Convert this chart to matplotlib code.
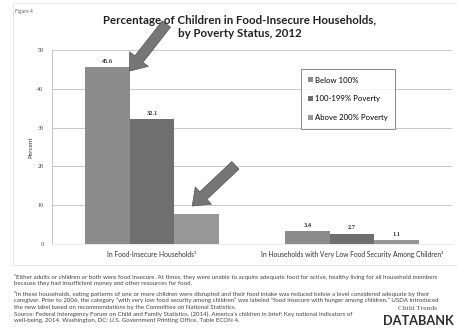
import matplotlib
matplotlib.use("Agg")
import matplotlib.pyplot as plt
from matplotlib.patches import Rectangle
import numpy as np

# Data
categories = ["In Food-Insecure Households\u00b9",
              "In Households with Very Low Food Security Among Children\u00b2"]
series_names = ["Below 100%", "100-199% Poverty", "Above 200% Poverty"]
below_100 = [45.6, 3.4]
pov_100_199 = [32.1, 2.7]
above_200 = [7.7, 1.1]
value_labels = [["45.6", "3.4"], ["32.1", "2.7"], [None, "1.1"]]
y_ticks = [0, 10, 20, 30, 40, 50]

colors = ["#8c8c8c", "#6f6f6f", "#989898"]

plt.rcParams["font.family"] = ["Lato", "DejaVu Sans"]

fig = plt.figure(figsize=(4.57, 3.32), dpi=100)
fig.patch.set_facecolor("white")

# faint frame of the chart region
fig.add_artist(Rectangle((13 / 457, 1 - 265 / 332), 450 / 457, 262 / 332,
                         transform=fig.transFigure, fill=False,
                         edgecolor="#e4e4e4", linewidth=0.6))

ax = fig.add_axes([52 / 457, 88 / 332, 400 / 457, 194 / 332])
x = np.arange(len(categories))
w = 0.222
series = [below_100, pov_100_199, above_200]
bars = []
for i, (vals, c) in enumerate(zip(series, colors)):
    b = ax.bar(x + (i - 1) * w, vals, width=w, color=c, label=series_names[i],
               zorder=2, linewidth=0)
    bars.append(b)
    for j, rect in enumerate(b):
        lab = value_labels[i][j]
        if lab:
            ax.text(rect.get_x() + rect.get_width() / 2, vals[j] + 0.8, lab,
                    ha="center", va="bottom", fontsize=4.5,
                    family="Liberation Serif", fontweight="bold", color="#333333")

ax.set_xlim(-0.5, 1.5)
ax.set_ylim(0, 50)
ax.set_yticks(y_ticks)
ax.set_yticklabels([str(t) for t in y_ticks], fontsize=4.5,
                   family="Liberation Serif", color="#444444")
ax.yaxis.grid(True, color="#c9c9c9", linewidth=0.7, zorder=0)
ax.set_axisbelow(True)
ax.tick_params(axis="y", length=0, pad=6)
ax.set_xticks(x)
ax.set_xticklabels(categories, fontsize=4.9, color="#333333")
ax.tick_params(axis="x", length=0, pad=5)
for s in ["top", "right"]:
    ax.spines[s].set_visible(False)
ax.spines["left"].set_color("#bbbbbb")
ax.spines["left"].set_linewidth(0.6)
ax.spines["bottom"].set_color("#e6e6e6")
ax.spines["bottom"].set_linewidth(0.6)
ax.set_ylabel("Percent", fontsize=4.5, color="#333333", labelpad=3)

leg = ax.legend(loc="upper left", bbox_to_anchor=(0.612, 0.923), fontsize=5.6,
                frameon=True, fancybox=False, edgecolor="#555555",
                handlelength=0.6, handleheight=0.6, handletextpad=0.2,
                labelspacing=1.5, borderpad=1.0)
leg.get_frame().set_linewidth(0.6)

# highlight arrows
arrow_kw = dict(arrowstyle="simple,head_length=1.1,head_width=1.7,tail_width=0.75",
                mutation_scale=10, facecolor="#767676", edgecolor="#555555",
                linewidth=0.5)
r1 = bars[0][0]
ax.annotate("", xy=(r1.get_x() + r1.get_width() - 0.01, 44.0),
            xytext=(29, 37), textcoords="offset points",
            arrowprops=arrow_kw, annotation_clip=False, zorder=4)
r3 = bars[2][0]
ax.annotate("", xy=(r3.get_x() + 0.08, 9.3),
            xytext=(34, 32), textcoords="offset points",
            arrowprops=arrow_kw, annotation_clip=False, zorder=4)

# titles and labels
fig.text(240 / 457, 1 - 27 / 332,
         "Percentage of Children in Food-Insecure Households,\nby Poverty Status, 2012",
         ha="center", va="center", fontsize=8.3, fontweight="bold",
         color="#222222", linespacing=1.3, zorder=5)
fig.text(15 / 457, 1 - 12 / 332, "Figure 4", fontsize=3.5, color="#666666",
         va="center")

notes = [
    "\u00b9Either adults or children or both were food insecure. At times, they were unable to acquire adequate food for active, healthy living for all household members",
    "because they had insufficient money and other resources for food.",
    "\u00b2In these households, eating patterns of one or more children were disrupted and their food intake was reduced below a level considered adequate by their",
    "caregiver. Prior to 2006, the category \u201cwith very low food security among children\u201d was labeled \u201cfood insecure with hunger among children.\u201d USDA introduced",
    "the new label based on recommendations by the Committee on National Statistics.",
    "Source: Federal Interagency Forum on Child and Family Statistics. (2014). America\u2019s children in brief: Key national indicators of",
    "well-being, 2014. Washington, DC: U.S. Government Printing Office. Table ECON 4.",
]
y_pos = 277.0
for k, line in enumerate(notes):
    if k == 2:
        y_pos += 3
    fig.text(14 / 457, 1 - y_pos / 332, line, fontsize=4.45,
             color="#444444", va="center")
    y_pos += 6.8

fig.text(418 / 457, 1 - 308 / 332, "Child Trends", fontsize=5.4,
         family="Liberation Serif", color="#555555", ha="center", va="center")
fig.text(418 / 457, 1 - 321 / 332, "DATABANK", fontsize=9.2, fontweight="bold",
         color="#2d2d2d", ha="center", va="center")

fig.savefig("out.png", dpi=100, facecolor="white")
